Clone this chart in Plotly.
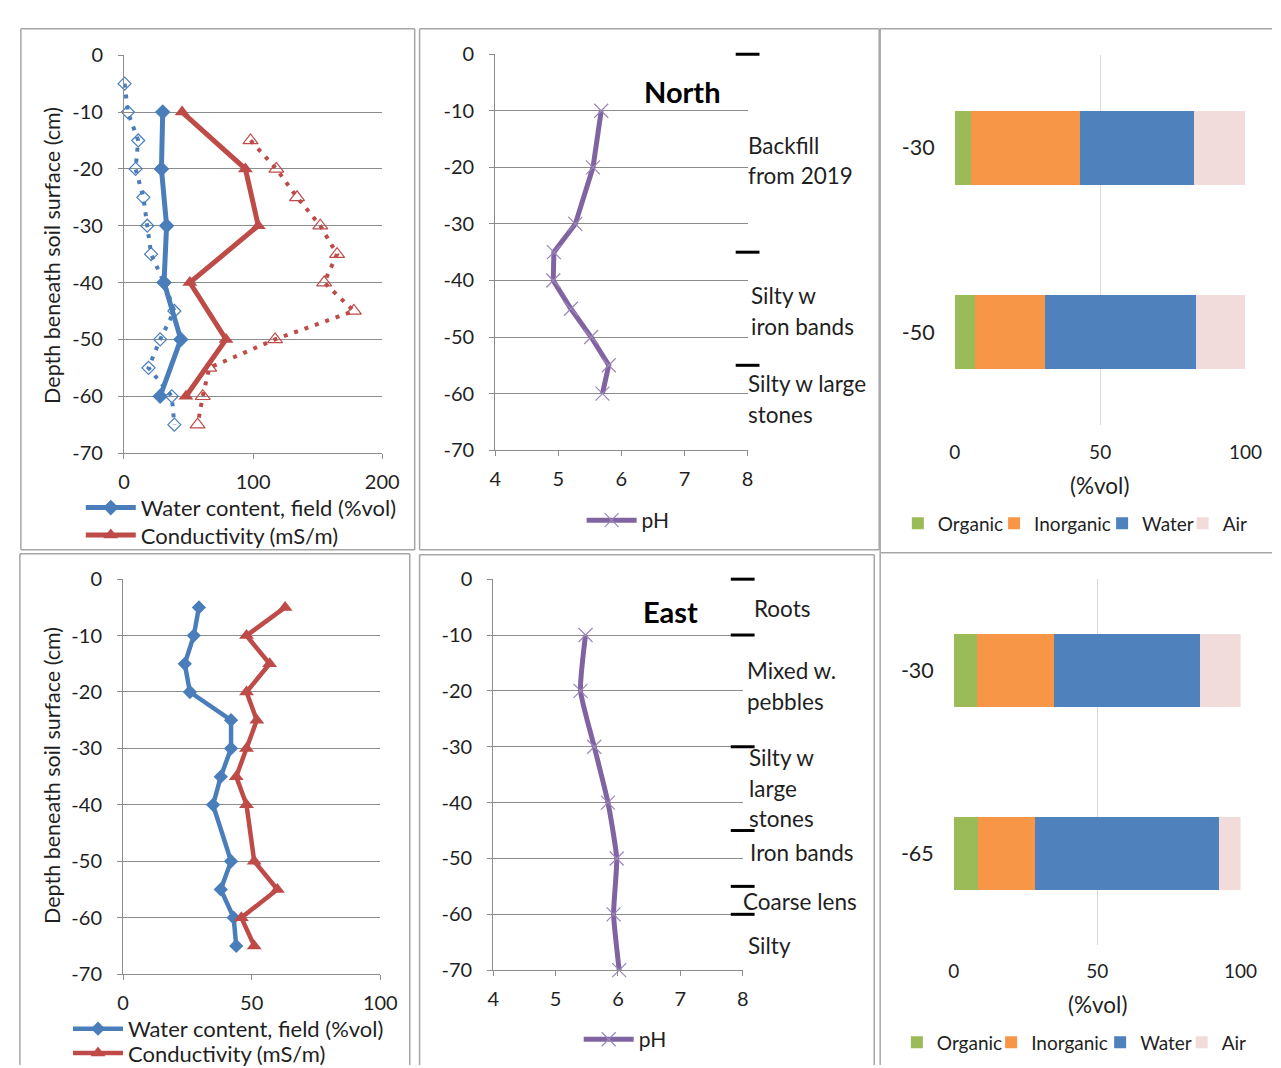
import plotly.graph_objects as go

# ---------------- DATA ----------------
# North profile - field measurements (solid lines)
north_field_depth = [-10, -20, -30, -40, -50, -60]
north_field_water = [30, 29, 33, 31, 44, 28]
north_field_cond = [45, 94, 104, 51, 79, 48]

# North profile - second measurement set (dotted, open markers)
north_lab_water_depth = [-5, -10, -15, -20, -25, -30, -35, -40, -45, -50, -55, -60, -65]
north_lab_water = [0.5, 3, 11, 9, 15, 18, 21, 31, 39, 28, 19, 37, 39]
north_lab_cond_depth = [-15, -20, -25, -30, -35, -40, -45, -50, -55, -60, -65]
north_lab_cond = [98, 118, 134, 152, 165, 155, 178, 117, 66, 61, 57]

# North pH
north_ph_depth = [-10, -20, -30, -35, -40, -45, -50, -55, -60]
north_ph = [5.68, 5.55, 5.27, 4.93, 4.92, 5.20, 5.52, 5.80, 5.70]

# North composition (%vol)
north_comp_depth = ["-30", "-50"]
north_comp_organic = [5.6, 7.1]
north_comp_inorganic = [37.5, 24.0]
north_comp_water = [39.3, 52.0]
north_comp_air = [17.6, 16.9]

# East profile
east_depth = [-5, -10, -15, -20, -25, -30, -35, -40, -50, -55, -60, -65]
east_water = [29.5, 27.5, 24, 26, 42, 42, 38, 35, 42, 38, 43, 44]
east_cond = [63, 48, 57, 48, 52, 48, 44, 48, 51, 60, 46, 51]

# East pH
east_ph_depth = [-10, -20, -30, -40, -50, -60, -70]
east_ph = [5.48, 5.40, 5.62, 5.84, 5.98, 5.93, 6.02]

# East composition (%vol)
east_comp_depth = ["-30", "-65"]
east_comp_organic = [8.0, 8.6]
east_comp_inorganic = [26.9, 19.6]
east_comp_water = [51.0, 64.4]
east_comp_air = [14.1, 7.4]

# Soil layer boundaries and descriptions
north_bounds = [0, -35, -55]
north_layer_lines = ["Backfill", "from 2019", "Silty w", "iron bands", "Silty w large", "stones"]
east_bounds = [0, -10, -30, -45, -55, -60]
east_layer_lines = ["Roots", "Mixed w.", "pebbles", "Silty w", "large", "stones",
                    "Iron bands", "Coarse lens", "Silty"]

depth_ticks = [0, -10, -20, -30, -40, -50, -60, -70]
comp_names = ["Organic", "Inorganic", "Water", "Air"]

# ---------------- STYLE ----------------
W, H = 1281, 1068
FONT = "Lato, 'Open Sans', sans-serif"
BLUE = "#4A7EBB"
RED = "#BE4B48"
PURPLE = "#8064A2"
GRID = "#8C8C8C"
TXT = "#1F1F1F"
COMP_COLORS = ["#9BBB59", "#F79646", "#4F81BD", "#F2DCDB"]


def px(x):
    return x / W


def py(y):
    return 1 - y / H


fig = go.Figure()

# ---- Panel 1: North water / conductivity ----
fig.add_trace(go.Scatter(x=north_lab_water, y=north_lab_water_depth, mode="lines+markers",
                         line=dict(color=BLUE, width=4, dash="4px,7px"),
                         marker=dict(symbol="diamond-open", size=10, color=BLUE, line=dict(width=1.2)),
                         showlegend=False, cliponaxis=False, xaxis="x", yaxis="y"))
fig.add_trace(go.Scatter(x=north_lab_cond, y=north_lab_cond_depth, mode="lines+markers",
                         line=dict(color=RED, width=4, dash="4px,7px"),
                         marker=dict(symbol="triangle-up-open", size=13, color=RED, line=dict(width=1.2)),
                         showlegend=False, cliponaxis=False, xaxis="x", yaxis="y"))
fig.add_trace(go.Scatter(x=north_field_water, y=north_field_depth, mode="lines+markers",
                         name="Water content, field (%vol)",
                         line=dict(color=BLUE, width=5),
                         marker=dict(symbol="diamond", size=12, color=BLUE),
                         legend="legend", cliponaxis=False, xaxis="x", yaxis="y"))
fig.add_trace(go.Scatter(x=north_field_cond, y=north_field_depth, mode="lines+markers",
                         name="Conductivity (mS/m)",
                         line=dict(color=RED, width=5),
                         marker=dict(symbol="triangle-up", size=13, color=RED),
                         legend="legend7", cliponaxis=False, xaxis="x", yaxis="y"))

# ---- Panel 2: North pH ----
fig.add_trace(go.Scatter(x=north_ph, y=north_ph_depth, mode="lines+markers", name="pH",
                         line=dict(color=PURPLE, width=5),
                         marker=dict(symbol="x-thin", size=14, color=PURPLE,
                                     line=dict(width=1.2, color="#9A86B8")),
                         legend="legend2", cliponaxis=False, xaxis="x2", yaxis="y2"))
fig.add_trace(go.Scatter(x=[8] * len(north_bounds), y=north_bounds, mode="markers",
                         marker=dict(symbol="line-ew", size=17, line=dict(width=3, color="black")),
                         showlegend=False, cliponaxis=False, xaxis="x2", yaxis="y2"))

# ---- Panel 3: North composition ----
north_leg_ids = ["legend3", "legend9", "legend10", "legend11"]
for name, vals, col, lg in zip(comp_names,
                               [north_comp_organic, north_comp_inorganic, north_comp_water, north_comp_air],
                               COMP_COLORS, north_leg_ids):
    fig.add_trace(go.Bar(y=north_comp_depth, x=vals, orientation="h", name=name,
                         marker=dict(color=col, line=dict(width=0)),
                         legend=lg, xaxis="x3", yaxis="y3"))

# ---- Panel 4: East water / conductivity ----
fig.add_trace(go.Scatter(x=east_water, y=east_depth, mode="lines+markers",
                         name="Water content, field (%vol)",
                         line=dict(color=BLUE, width=4.5),
                         marker=dict(symbol="diamond", size=11, color=BLUE),
                         legend="legend4", cliponaxis=False, xaxis="x4", yaxis="y4"))
fig.add_trace(go.Scatter(x=east_cond, y=east_depth, mode="lines+markers",
                         name="Conductivity (mS/m)",
                         line=dict(color=RED, width=4.5),
                         marker=dict(symbol="triangle-up", size=13, color=RED),
                         legend="legend8", cliponaxis=False, xaxis="x4", yaxis="y4"))

# ---- Panel 5: East pH ----
fig.add_trace(go.Scatter(x=east_ph, y=east_ph_depth, mode="lines+markers", name="pH",
                         line=dict(color=PURPLE, width=5, shape="spline", smoothing=0.5),
                         marker=dict(symbol="x-thin", size=14, color=PURPLE,
                                     line=dict(width=1.2, color="#9A86B8")),
                         legend="legend5", cliponaxis=False, xaxis="x5", yaxis="y5"))
fig.add_trace(go.Scatter(x=[8] * len(east_bounds), y=east_bounds, mode="markers",
                         marker=dict(symbol="line-ew", size=17, line=dict(width=3, color="black")),
                         showlegend=False, cliponaxis=False, xaxis="x5", yaxis="y5"))

# ---- Panel 6: East composition ----
east_leg_ids = ["legend6", "legend12", "legend13", "legend14"]
for name, vals, col, lg in zip(comp_names,
                               [east_comp_organic, east_comp_inorganic, east_comp_water, east_comp_air],
                               COMP_COLORS, east_leg_ids):
    fig.add_trace(go.Bar(y=east_comp_depth, x=vals, orientation="h", name=name,
                         marker=dict(color=col, line=dict(width=0)),
                         legend=lg, xaxis="x6", yaxis="y6"))

# ---------------- AXES ----------------
tickfont = dict(family=FONT, size=20, color=TXT)


def depth_xaxis(dom, rng, dtick):
    return dict(domain=[px(dom[0]), px(dom[1])], range=rng, dtick=dtick, tick0=rng[0],
                showgrid=False, zeroline=False, showline=True, linecolor=GRID, linewidth=1,
                ticks="outside", ticklen=5, tickcolor=GRID, tickfont=tickfont,
                ticklabelstandoff=6, fixedrange=True)


def depth_yaxis(dom, anchor):
    return dict(domain=[py(dom[1]), py(dom[0])], range=[-70, 0], anchor=anchor,
                tickmode="array", tickvals=depth_ticks, ticktext=[str(v) for v in depth_ticks],
                showgrid=True, gridcolor=GRID, gridwidth=1, zeroline=False,
                showline=True, linecolor=GRID, linewidth=1,
                ticks="outside", ticklen=5, tickcolor=GRID, tickfont=tickfont,
                ticklabelstandoff=11, fixedrange=True)


def comp_xaxis(dom, anchor, standoff):
    return dict(domain=[px(dom[0]), px(dom[1])], range=[0, 100], anchor=anchor,
                tickvals=[0, 50, 100], showgrid=True, gridcolor="#D9D9D9", gridwidth=1,
                zeroline=False, showline=False, ticks="", tickfont=dict(family=FONT, size=19, color=TXT),
                ticklabelstandoff=standoff, fixedrange=True)


def comp_yaxis(dom, anchor):
    return dict(domain=[py(dom[1]), py(dom[0])], anchor=anchor, autorange="reversed",
                type="category", showgrid=False, zeroline=False, showline=False, ticks="",
                tickfont=dict(family=FONT, size=21.5, color=TXT), ticklabelstandoff=19,
                fixedrange=True)


layout = dict(
    width=W, height=H, margin=dict(l=0, r=0, t=0, b=0),
    paper_bgcolor="white", plot_bgcolor="white",
    font=dict(family=FONT, color=TXT),
    barmode="stack", bargap=0.6,
    xaxis=dict(depth_xaxis((112, 375), [0, 200], 100), anchor="y"),
    yaxis=depth_yaxis((35, 442), "x"),
    xaxis2=dict(depth_xaxis((490, 747), [4, 8], 1), anchor="y2"),
    yaxis2=depth_yaxis((34, 439), "x2"),
    xaxis3=comp_xaxis((958, 1254), "y3", 14),
    yaxis3=comp_yaxis((35, 413), "x3"),
    xaxis4=dict(depth_xaxis((111, 373), [0, 100], 50), anchor="y4"),
    yaxis4=depth_yaxis((571, 975), "x4"),
    xaxis5=dict(depth_xaxis((488, 742), [4, 8], 1), anchor="y5"),
    yaxis5=depth_yaxis((571, 971), "x5"),
    xaxis6=comp_xaxis((957, 1249), "y6", 13),
    yaxis6=comp_yaxis((571, 945), "x6"),
)


def one_legend(x, y, size):
    return dict(x=px(x), y=py(y), xanchor="left", yanchor="middle",
                font=dict(family=FONT, size=size, color=TXT),
                bgcolor="rgba(0,0,0,0)", itemwidth=50)


layout["legend"] = one_legend(68, 498, 22)
layout["legend7"] = one_legend(68, 526, 22)
layout["legend4"] = one_legend(55, 1031, 22)
layout["legend8"] = one_legend(55, 1056, 22)
layout["legend2"] = one_legend(578, 511, 21)
layout["legend5"] = one_legend(575, 1042, 21)


def bar_legend(x, y):
    return dict(x=px(x), y=py(y), xanchor="left", yanchor="middle",
                font=dict(family=FONT, size=19, color=TXT),
                bgcolor="rgba(0,0,0,0)", itemwidth=30)


for lg, tx in zip(north_leg_ids, [940, 1038, 1148, 1230]):
    layout[lg] = bar_legend(tx - 40, 514)
for lg, tx in zip(east_leg_ids, [939, 1035, 1146, 1229]):
    layout[lg] = bar_legend(tx - 40, 1045)
fig.update_layout(**layout)

# ---------------- ANNOTATIONS ----------------
ann = []
for yc in (240, 772):
    ann.append(dict(text="Depth beneath soil surface (cm)", xref="paper", yref="paper",
                    x=px(38), y=py(yc), xanchor="center", yanchor="middle", textangle=-90,
                    showarrow=False, font=dict(family=FONT, size=21.5, color=TXT)))
ann.append(dict(text="<b>North</b>", xref="paper", yref="paper", x=px(681), y=py(72),
                xanchor="center", yanchor="middle",
                showarrow=False, font=dict(family=FONT, size=29, color="black")))
ann.append(dict(text="<b>East</b>", xref="paper", yref="paper", x=px(669), y=py(604),
                xanchor="center", yanchor="middle",
                showarrow=False, font=dict(family=FONT, size=29, color="black")))
for xc, yc in ((1105, 475), (1103, 1006)):
    ann.append(dict(text="(%vol)", xref="paper", yref="paper", x=px(xc), y=py(yc),
                    xanchor="center", yanchor="middle",
                    showarrow=False, font=dict(family=FONT, size=22.5, color=TXT)))

labfont = dict(family=FONT, size=22.5, color=TXT)
north_label_pos = [(745, 127), (745, 158), (748, 281), (748, 313), (745, 371), (745, 403)]
for t, (lx, ly) in zip(north_layer_lines, north_label_pos):
    ann.append(dict(text=t, xref="paper", yref="paper", x=px(lx), y=py(ly), xanchor="left",
                    yanchor="middle", showarrow=False, font=labfont))
east_label_pos = [(751, 601), (744, 664), (744, 696), (746, 753), (746, 785), (746, 816),
                  (747, 851), (740, 901), (745, 946)]
for t, (lx, ly) in zip(east_layer_lines, east_label_pos):
    ann.append(dict(text=t, xref="paper", yref="paper", x=px(lx), y=py(ly), xanchor="left",
                    yanchor="middle", showarrow=False, font=labfont))
fig.update_layout(annotations=ann)

# ---------------- PANEL BORDERS (kept inside the page) ----------------
segments = [
    (7, 8, 408, 8), (7, 541, 408, 541), (7, 8, 7, 541), (408, 8, 408, 541),
    (413, 8, 881, 8), (413, 541, 881, 541), (413, 8, 413, 541), (881, 8, 881, 541),
    (882, 8, 1281, 8), (882, 8, 882, 544),
    (6, 545, 403, 545), (6, 545, 6, 1068), (403, 545, 403, 1068),
    (413, 546, 876, 546), (413, 546, 413, 1068), (876, 546, 876, 1068),
    (882, 544, 1281, 544), (882, 544, 882, 1068),
]
shapes = []
for x0, y0, x1, y1 in segments:
    shapes.append(dict(type="line", xref="paper", yref="paper", x0=px(x0), x1=px(x1),
                       y0=py(y0), y1=py(y1), line=dict(color="#A6A6A6", width=1.5),
                       layer="below"))
fig.update_layout(shapes=shapes)

fig.write_html("out.html", config={"displayModeBar": False})
